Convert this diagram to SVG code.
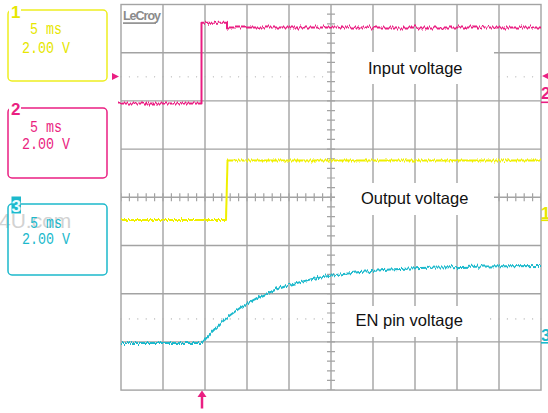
<svg xmlns="http://www.w3.org/2000/svg" width="548" height="413" viewBox="0 0 548 413">
<style>
.g{stroke:#a3a3a3;stroke-width:1.4;fill:none}
.dot{stroke:#b0b0b0;stroke-width:1.3;stroke-linecap:round;stroke-dasharray:0 8.4;fill:none}
.tk{stroke:#a3a3a3;stroke-width:8;fill:none}
.lbl{font-family:"Liberation Sans",Arial,sans-serif;font-size:16.5px;fill:#111}
.mono{font-family:"Liberation Mono","DejaVu Sans Mono",monospace;font-size:16.5px}
.num{font-family:"Liberation Sans",Arial,sans-serif;font-size:17px;font-weight:bold}
.tr{fill:none;stroke-width:2;stroke-linejoin:round}
.box{fill:none;stroke-width:1.5}
</style>
<defs>
<filter id="noise" filterUnits="userSpaceOnUse" x="0" y="0" width="548" height="413">
<feTurbulence type="fractalNoise" baseFrequency="0.7 0.05" numOctaves="2" seed="3" result="t"/>
<feColorMatrix in="t" type="matrix" values="0 0 0 0 0.5  0 1 0 0 0  0 0 0 0 0  0 0 0 0 1" result="n"/>
<feDisplacementMap in="SourceGraphic" in2="n" scale="6" xChannelSelector="R" yChannelSelector="G"/>
</filter>
</defs>
<rect width="548" height="413" fill="#ffffff"/>
<g id="grid">
<rect class="g" x="121" y="4.5" width="420" height="385.6"/>
<path class="g" d="M163 4.5V390.1M205 4.5V390.1M247 4.5V390.1M289 4.5V390.1M331 4.5V390.1M373 4.5V390.1M415 4.5V390.1M457 4.5V390.1M499 4.5V390.1"/>
<path class="g" d="M121 52.7H541M121 100.9H541M121 149.1H541M121 197.3H541M121 245.5H541M121 293.7H541M121 341.9H541"/>
<line class="tk" x1="331" y1="4.5" x2="331" y2="390.1" stroke-dasharray="1.2 8.44" stroke-dashoffset="0.6"/>
<line class="tk" x1="121" y1="197.3" x2="541" y2="197.3" stroke-dasharray="1.2 7.2" stroke-dashoffset="0.6"/>
<line class="dot" x1="121" y1="76.8" x2="541" y2="76.8"/>
<line class="dot" x1="121" y1="318.9" x2="541" y2="318.9"/>
<text x="123" y="20" font-family="'Liberation Sans',Arial,sans-serif" font-size="12.5" font-weight="bold" fill="#8a8a8a" textLength="38">LeCroy</text>
<rect x="123" y="22.3" width="33" height="1.6" fill="#8a8a8a"/>
</g>
<g id="label-boxes">
<rect x="335" y="52" width="159" height="32" fill="#ffffff"/>
<rect x="335" y="183" width="159" height="32" fill="#ffffff"/>
<rect x="335" y="306" width="155" height="31" fill="#ffffff"/>
</g>
<g id="traces" filter="url(#noise)">
<polyline class="tr" stroke="#ea1f82" points="118,103.5 201.5,103.5 201.5,22.8 227,22.8 227,27.5 541,27.5"/>
<polyline class="tr" stroke="#f0f000" points="121,220 226,220 227.5,160.5 541,160.5"/>
<polyline class="tr" stroke="#1cb9cc" points="121,343 202,343 210,333.8 220,323.8 230,315.3 240,308 250,301.8 260,296.5 275,290 290,284.8 310,279.6 330,275.8 360,271.9 390,269.5 420,268 460,266.9 500,266.3 541,266"/>
</g>
<g id="input-voltage"><text class="lbl" x="368" y="73.5">Input voltage</text></g>
<g id="output-voltage"><text class="lbl" x="361" y="204">Output voltage</text></g>
<g id="en-pin-voltage"><text class="lbl" x="355.5" y="325.5">EN pin voltage</text></g>
<g id="markers">
<polygon points="112,73 119,76.5 112,80" fill="#ea1f82"/>
<polygon points="542,76 548,73 548,79" fill="#ea1f82"/>
<text class="num" x="541" y="99" fill="#ea1f82">2</text>
<rect x="541" y="101.5" width="7" height="1.6" fill="#ea1f82"/>
<text class="num" x="541" y="219" fill="#e6e600">1</text>
<rect x="541" y="219.5" width="7" height="1.6" fill="#e6e600"/>
<text class="num" x="541" y="341" fill="#1cb9cc">3</text>
<rect x="541" y="342" width="7" height="1.6" fill="#1cb9cc"/>
<line x1="202" y1="396" x2="202" y2="408.5" stroke="#ea1f82" stroke-width="2.5"/>
<polygon points="197.5,397 202,390.5 206.5,397" fill="#ea1f82"/>
</g>
<text x="-1" y="227.5" font-family="'Liberation Sans',Arial,sans-serif" font-size="21" fill="#d2d2d2">4U.com</text>
<g id="ch1">
<rect class="box" x="8" y="10" width="99" height="71" rx="4" stroke="#eeee20"/>
<rect x="9" y="2" width="12" height="17" fill="#ffffff"/>
<text class="num" x="11" y="18" fill="#e6e600">1</text>
<text class="mono" x="30" y="33.5" fill="#e6e600" textLength="32" lengthAdjust="spacingAndGlyphs">5 ms</text>
<text class="mono" x="22" y="52.5" fill="#e6e600" textLength="48" lengthAdjust="spacingAndGlyphs">2.00 V</text>
</g>
<g id="ch2">
<rect class="box" x="8" y="108" width="99" height="70" rx="4" stroke="#ea1f82"/>
<rect x="9" y="99" width="12" height="17" fill="#ffffff"/>
<text class="num" x="11" y="115" fill="#ea1f82">2</text>
<text class="mono" x="30" y="131.5" fill="#ea1f82" textLength="32" lengthAdjust="spacingAndGlyphs">5 ms</text>
<text class="mono" x="22" y="148.5" fill="#ea1f82" textLength="48" lengthAdjust="spacingAndGlyphs">2.00 V</text>
</g>
<g id="ch3">
<rect class="box" x="8" y="204" width="99" height="71" rx="4" stroke="#1cb9cc"/>
<rect x="11.5" y="196.5" width="9.5" height="17" fill="#1cb9cc"/>
<text class="num" x="11.5" y="212" fill="#e8fbff" font-size="16">3</text>
<text class="mono" x="30" y="227.5" fill="#1cb9cc" textLength="32" lengthAdjust="spacingAndGlyphs">5 ms</text>
<text class="mono" x="22" y="243.5" fill="#1cb9cc" textLength="48" lengthAdjust="spacingAndGlyphs">2.00 V</text>
</g>
</svg>
